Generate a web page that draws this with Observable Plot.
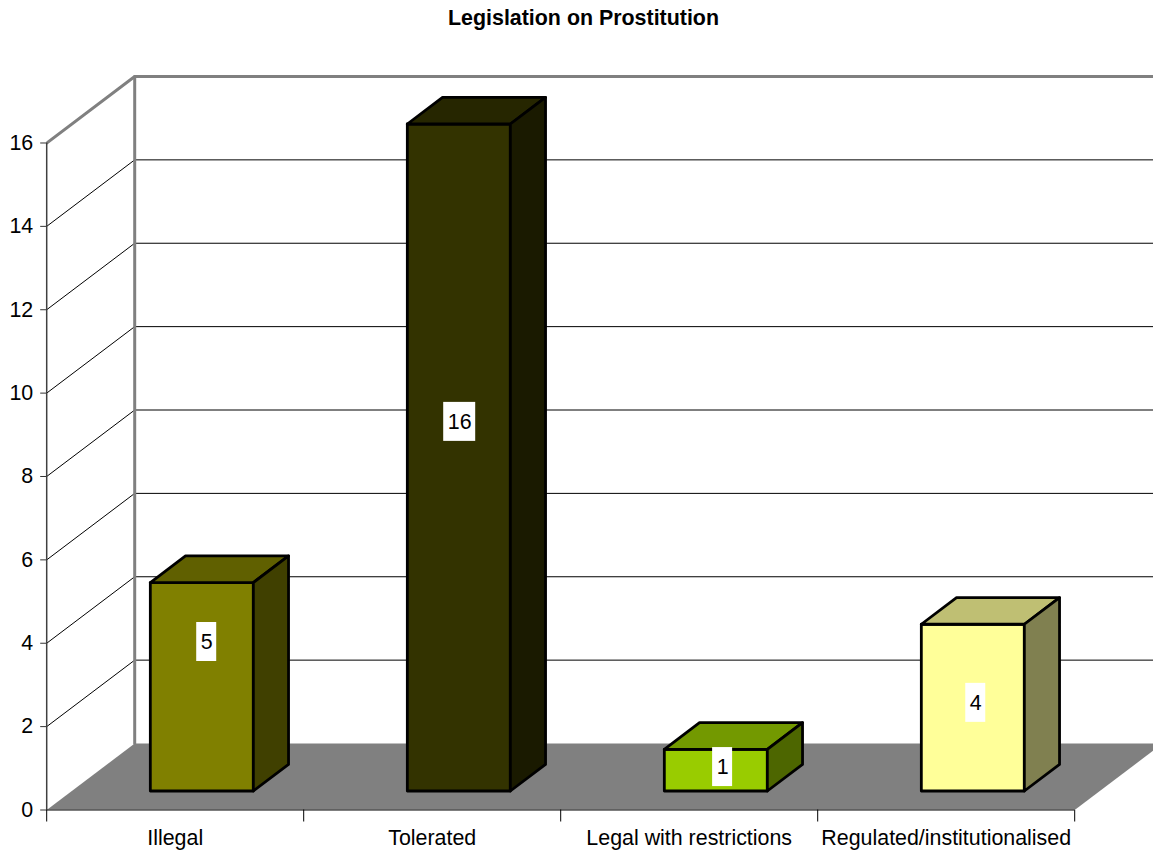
<!DOCTYPE html>
<html>
<head>
<meta charset="utf-8">
<title>Legislation on Prostitution</title>
<script src="https://cdn.jsdelivr.net/npm/d3@7"></script>
<script src="https://cdn.jsdelivr.net/npm/@observablehq/plot@0.6"></script>
<style>
  html, body { margin: 0; padding: 0; background: #fff; overflow: hidden; }
  #title { box-sizing: border-box; width: 1153px; height: 34px; padding-left: 14px;
           text-align: center; font: bold 21.4px/37px "Liberation Sans", Arial, sans-serif; color: #000; }
  svg { display: block; }
</style>
</head>
<body>
<div id="title">Legislation on Prostitution</div>
<div id="chart"></div>
<script>
const categories = ["Illegal", "Tolerated", "Legal with restrictions", "Regulated/institutionalised"];
const values = [5, 16, 1, 4];
const frontColors = ["#808000", "#333300", "#99cc00", "#ffff99"];
const topColors = ["#606000", "#262600", "#739900", "#bfbf73"];
const sideColors = ["#404000", "#1a1a00", "#4d6600", "#808050"];
const valueTicks = [0, 2, 4, 6, 8, 10, 12, 14, 16];
const gridValues = [2, 4, 6, 8, 10, 12, 14];
const categoryEdges = [0, 1, 2, 3, 4];
const labelXs = [0.6226, 1.607, 2.630, 3.615];
const labelYs = [4.03, 9.31, 1.03, 2.57];

// Oblique projection settings, in data units of the two scales
const pxPerCat = 257, pxPerUnit = 41.69;
const depthX = 88 / pxPerCat, depthY = 66.5 / pxPerUnit;
const xMax = 1106.8 / pxPerCat, yMax = 16 + 108.5 / pxPerUnit;
const barInset = 0.3054, barWidth = 0.4008, barFront = 0.2857, barBack = 0.6857;

const proj = (c, v, d) => ({x: c + d * depthX, y: v + d * depthY});
const poly = (id, fill, pts) => pts.concat([pts[0]]).map(p => ({...p, id, fill}));

const faces = categories.flatMap((cat, i) => {
  const l = i + barInset, r = l + barWidth, v = values[i];
  return [
    poly(cat + " front", frontColors[i], [proj(l, 0, barFront), proj(r, 0, barFront), proj(r, v, barFront), proj(l, v, barFront)]),
    poly(cat + " top", topColors[i], [proj(l, v, barFront), proj(r, v, barFront), proj(r, v, barBack), proj(l, v, barBack)]),
    poly(cat + " side", sideColors[i], [proj(r, 0, barFront), proj(r, 0, barBack), proj(r, v, barBack), proj(r, v, barFront)])
  ].flat();
});

const floor = [proj(0, 0, 0), proj(0, 0, 1), proj(4, 0, 1), proj(4, 0, 0), proj(0, 0, 0)];
const gridLines = gridValues.flatMap(v => [proj(0, v, 0), proj(0, v, 1), proj(xMax, v, 1)].map(p => ({...p, v})));
const wallEdge = [proj(0, 16, 0), proj(0, 16, 1), proj(xMax, 16, 1)];
const wallPost = [proj(0, 0, 1), proj(0, 16, 1)];

const labels = categories.map((c, i) => ({x: labelXs[i], y: labelYs[i], text: String(values[i])}));
const boxW = d => (String(d.text).length * 12 + 8) / 2 / pxPerCat;
const boxH = 19.5 / pxPerUnit;

const chart = Plot.plot({
  width: 1153,
  height: 818,
  marginLeft: 46.2,
  marginRight: 0,
  marginTop: 0,
  marginBottom: 42.5,
  style: {fontFamily: '"Liberation Sans", Arial, sans-serif', fontSize: "21.4px", background: "#fff", color: "#000"},
  x: {domain: [0, xMax]},
  y: {domain: [0, yMax]},
  color: {type: "identity"},
  marks: [
    Plot.line(floor, {x: "x", y: "y", fill: "#808080", stroke: "none", clip: true}),
    Plot.line(gridLines, {x: "x", y: "y", z: "v", stroke: "#000", strokeWidth: 1, clip: true}),
    Plot.line(wallPost, {x: "x", y: "y", stroke: "#808080", strokeWidth: 3}),
    Plot.line(wallEdge, {x: "x", y: "y", stroke: "#808080", strokeWidth: 3, clip: true}),
    Plot.ruleX([0], {y1: 0, y2: 16, stroke: "#404040", strokeWidth: 1.5}),
    Plot.ruleY([0], {x1: 0, x2: 4, stroke: "#000", strokeWidth: 1}),
    Plot.axisY({ticks: valueTicks, tickSize: 6, tickPadding: 7.5, label: null, tickFormat: d => String(d), stroke: "#333", fill: "#000"}),
    Plot.axisX({ticks: categoryEdges, tickSize: 12, label: null, tickFormat: () => "", stroke: "#000"}),
    Plot.axisX({ticks: categories.map((c, i) => i + 0.5), tickSize: 0, tickPadding: 20, label: null,
                tickFormat: d => categories[Math.floor(d)], fill: "#000"}),
    Plot.line(faces, {x: "x", y: "y", z: "id", fill: "fill", stroke: "#000", strokeWidth: 2.8, strokeLinejoin: "round"}),
    Plot.rect(labels, {x1: d => d.x - boxW(d), x2: d => d.x + boxW(d), y1: d => d.y - boxH, y2: d => d.y + boxH, fill: "#fff", inset: 0}),
    Plot.text(labels, {x: "x", y: "y", text: "text", fill: "#000", fontSize: 21.4})
  ]
});
document.getElementById("chart").appendChild(chart);
</script>
</body>
</html>
